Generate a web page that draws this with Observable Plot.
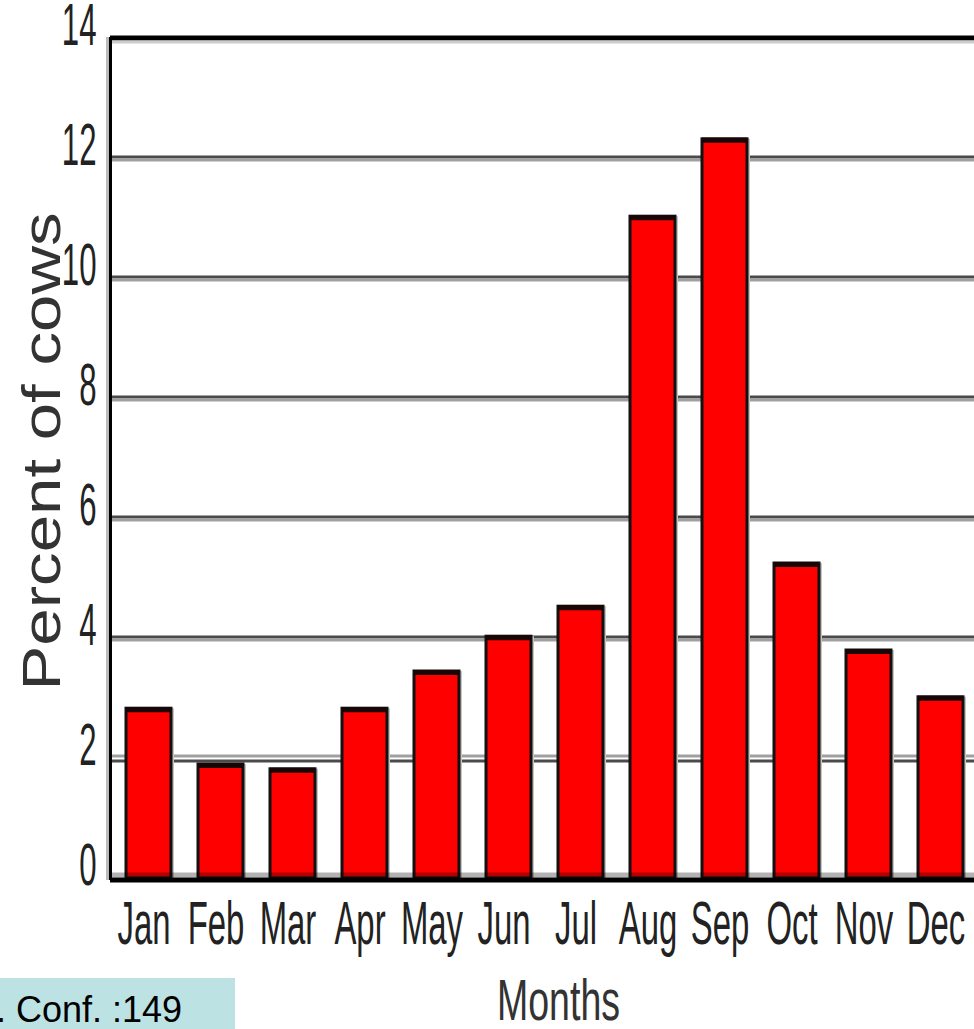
<!DOCTYPE html>
<html><head><meta charset="utf-8">
<script src="https://cdn.jsdelivr.net/npm/d3@7"></script>
<script src="https://cdn.jsdelivr.net/npm/@observablehq/plot@0.6"></script>
<style>
html,body{margin:0;padding:0;background:#fff;overflow:hidden;}
#wrap{position:relative;width:974px;height:1029px;overflow:hidden;}
#wrap svg{position:absolute;left:0;top:0;}
#conf{position:absolute;left:0;top:978px;width:235px;height:51px;background:#bde2e4;overflow:hidden;}
#conf span{position:absolute;left:-4px;top:14px;font:36px "Liberation Sans",Arial,sans-serif;line-height:1;color:#000;white-space:nowrap;}
</style></head><body><div id="wrap"><div id="conf"><span id="conftext"></span></div></div>
<script>
const months = ["Jan","Feb","Mar","Apr","May","Jun","Jul","Aug","Sep","Oct","Nov","Dec"];
const percent = [2.83,1.9,1.82,2.83,3.45,4.03,4.53,11.03,12.32,5.25,3.8,3.02];
const yTicks = [0,2,4,6,8,10,12,14];
const gridDarkTop = [4,6,8,10,12];
const gridLightTop = [2];
const topLine = [14];
const baseLine = [0];
const yTitle = ["Percent of cows"];
const xTitle = ["Months"];
const captionText = ". Conf. :149";

const data = months.map((m, i) => ({month: m, value: percent[i]}));

const chart = Plot.plot({
  width: 974, height: 1029,
  marginLeft: 110, marginRight: 0, marginTop: 38, marginBottom: 151,
  x: {domain: months, range: [111, 979], paddingInner: 0.37, paddingOuter: 0.185, align: 0.5, axis: null},
  y: {domain: [0, 14], range: [878, 38], axis: null},
  style: {background: "transparent", fontFamily: "'Liberation Sans', Arial, sans-serif", overflow: "visible"},
  marks: [
    Plot.ruleY(gridDarkTop, {stroke: "#4a4a4a", strokeWidth: 3, dy: -1.5}),
    Plot.ruleY(gridDarkTop, {stroke: "#a0a0a0", strokeWidth: 3, dy: 1.5}),
    Plot.ruleY(gridLightTop, {stroke: "#a0a0a0", strokeWidth: 3, dy: -2.5}),
    Plot.ruleY(gridLightTop, {stroke: "#4a4a4a", strokeWidth: 3, dy: 2.5}),
    Plot.ruleY(topLine, {stroke: "#000", strokeWidth: 5, dy: -0.5}),
    Plot.ruleY(topLine, {stroke: "#ccc", strokeWidth: 3, dy: 3.5}),
    Plot.barY(data, {x: "month", y: "value", fill: "#c4c4c4", dx: 3}),
    Plot.barY(data, {x: "month", y: "value", fill: "#ff0000", stroke: "#111", strokeWidth: 3}),
    Plot.tickY(data, {x: "month", y: "value", stroke: "#1a0505", strokeWidth: 5, dy: 1}),
    Plot.ruleY(baseLine, {stroke: "#000", strokeOpacity: 0.3, strokeWidth: 5, dy: -3.5}),
    Plot.ruleY(baseLine, {stroke: "#000", strokeWidth: 5, dy: 1.5}),
    Plot.frame({anchor: "left", stroke: "#bbb", strokeWidth: 3, dx: -3}),
    Plot.frame({anchor: "left", stroke: "#000", strokeWidth: 3}),
    Plot.text(yTicks, {y: d => d, text: d => String(d), frameAnchor: "left", textAnchor: "end", lineAnchor: "middle", dx: -14, dy: -13, fontSize: 60, fill: "#222", ariaDescription: "ytick"}),
    Plot.text(months, {x: d => d, text: d => d, frameAnchor: "bottom", lineAnchor: "middle", dx: -5, dy: 46, fontSize: 62, fill: "#222", ariaDescription: "xtick"}),
    Plot.text(xTitle, {text: d => d, frameAnchor: "bottom", lineAnchor: "middle", dx: 16, dy: 123, fontSize: 57, fill: "#333", ariaDescription: "xtitle"}),
    Plot.text(yTitle, {text: d => d, frameAnchor: "left", textAnchor: "start", lineAnchor: "middle", dx: -67, dy: 232, rotate: -90, fontSize: 53, fill: "#333", ariaDescription: "ytitle"})
  ]
});

const wrap = document.getElementById("wrap");
wrap.insertBefore(chart, wrap.firstChild);
document.getElementById("conftext").textContent = captionText;

function squeeze(desc, k, fixed) {
  d3.select(chart).selectAll('g[aria-description="' + desc + '"] text').each(function() {
    const L = fixed != null ? fixed : this.getComputedTextLength() * k;
    this.setAttribute("textLength", L);
    this.setAttribute("lengthAdjust", "spacingAndGlyphs");
  });
}
squeeze("ytick", 0.52);
squeeze("xtick", 0.53);
squeeze("xtitle", 0, 123);
squeeze("ytitle", 0, 478);
</script>
</body></html>
